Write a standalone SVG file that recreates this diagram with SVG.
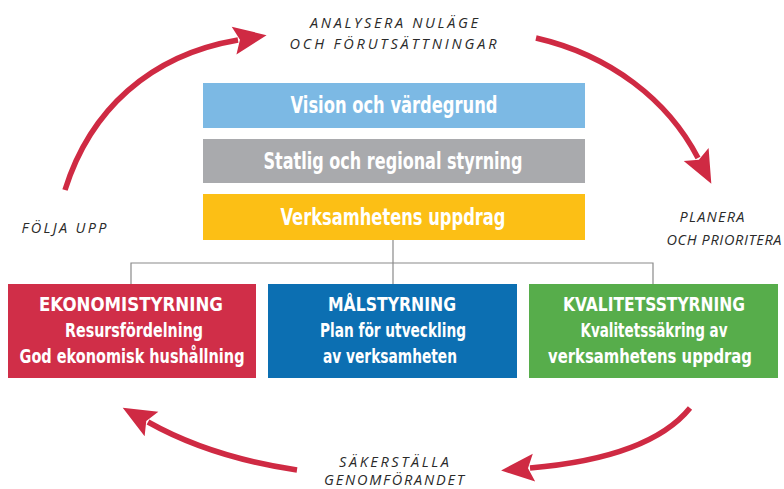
<svg xmlns="http://www.w3.org/2000/svg" width="784" height="489" viewBox="0 0 784 489">
<style>
.bt{font-family:"Liberation Sans Narrow","DejaVu Sans Condensed","Liberation Sans",sans-serif;font-weight:bold;fill:#fff;text-anchor:middle}
.big{font-size:23px}
.sm{font-size:19px}
.lab{font-family:"Open Sans","Liberation Sans",sans-serif;font-style:italic;font-size:14.5px;fill:#2a2a2a;text-anchor:middle}
.arr{fill:none;stroke:#cf2a43;stroke-width:5.5;marker-end:url(#ah)}
.con{fill:none;stroke:#8a8a8a;stroke-width:1.2}
</style>
<defs>
<marker id="ah" markerUnits="userSpaceOnUse" viewBox="-6 -16 38 32" refX="0" refY="0" markerWidth="38" markerHeight="32" orient="auto">
<path d="M-4,-14 L29,0 L-4,14 L2,0 Z" fill="#cf2a43"/>
</marker>
</defs>
<rect width="784" height="489" fill="#fff"/>
<g id="connectors">
<path class="con" d="M393,240 V263 M131,284 V263 H653 V284 M393,263 V284"/>
<path class="arr" d="M65,190 C 90,110 150,55 238,40"/>
<path class="arr" d="M536,38 C 610,55 668,100 698,158"/>
<path class="arr" d="M690,408 C 660,445 600,462 530,468"/>
<path class="arr" d="M297,470 C 230,460 180,440 148,422"/>
</g>
<g id="vision">
<rect x="203" y="83" width="382" height="45" fill="#7cb9e4"/>
<text class="bt big" x="394" y="113" textLength="207" lengthAdjust="spacingAndGlyphs">Vision och värdegrund</text>
</g>
<g id="statlig">
<rect x="203" y="139" width="382" height="44" fill="#a9aaad"/>
<text class="bt big" x="393" y="169" textLength="259" lengthAdjust="spacingAndGlyphs">Statlig och regional styrning</text>
</g>
<g id="uppdrag">
<rect x="203" y="194" width="382" height="46" fill="#fcbf15"/>
<text class="bt big" x="393" y="225" textLength="225" lengthAdjust="spacingAndGlyphs">Verksamhetens uppdrag</text>
</g>
<g id="ekonomi">
<rect x="8" y="284" width="248" height="94" fill="#d02e48"/>
<text class="bt sm" x="131" y="311" textLength="184" lengthAdjust="spacingAndGlyphs">EKONOMISTYRNING</text>
<text class="bt sm" x="134" y="337" textLength="138" lengthAdjust="spacingAndGlyphs">Resursfördelning</text>
<text class="bt sm" x="132" y="363" textLength="225" lengthAdjust="spacingAndGlyphs">God ekonomisk hushållning</text>
</g>
<g id="mal">
<rect x="268" y="284" width="249" height="94" fill="#0c6fb2"/>
<text class="bt sm" x="392" y="311" textLength="128" lengthAdjust="spacingAndGlyphs">MÅLSTYRNING</text>
<text class="bt sm" x="393" y="337" textLength="146" lengthAdjust="spacingAndGlyphs">Plan för utveckling</text>
<text class="bt sm" x="390" y="363" textLength="134" lengthAdjust="spacingAndGlyphs">av verksamheten</text>
</g>
<g id="kvalitet">
<rect x="529" y="284" width="249" height="94" fill="#57ad4b"/>
<text class="bt sm" x="654" y="311" textLength="182" lengthAdjust="spacingAndGlyphs">KVALITETSSTYRNING</text>
<text class="bt sm" x="654" y="337" textLength="147" lengthAdjust="spacingAndGlyphs">Kvalitetssäkring av</text>
<text class="bt sm" x="650" y="363" textLength="204" lengthAdjust="spacingAndGlyphs">verksamhetens uppdrag</text>
</g>
<g id="analysera">
<text class="lab" x="394" y="28" textLength="168" lengthAdjust="spacing">ANALYSERA NULÄGE</text>
<text class="lab" x="393" y="49" textLength="207" lengthAdjust="spacing">OCH FÖRUTSÄTTNINGAR</text>
</g>
<g id="planera">
<text class="lab" x="712" y="222" textLength="65" lengthAdjust="spacing">PLANERA</text>
<text class="lab" x="724" y="245" textLength="115" lengthAdjust="spacing">OCH PRIORITERA</text>
</g>
<g id="folja">
<text class="lab" x="64" y="233" textLength="85" lengthAdjust="spacing">FÖLJA UPP</text>
</g>
<g id="sakerstalla">
<text class="lab" x="394" y="467" textLength="110" lengthAdjust="spacing">SÄKERSTÄLLA</text>
<text class="lab" x="394" y="485" textLength="140" lengthAdjust="spacing">GENOMFÖRANDET</text>
</g>
</svg>
